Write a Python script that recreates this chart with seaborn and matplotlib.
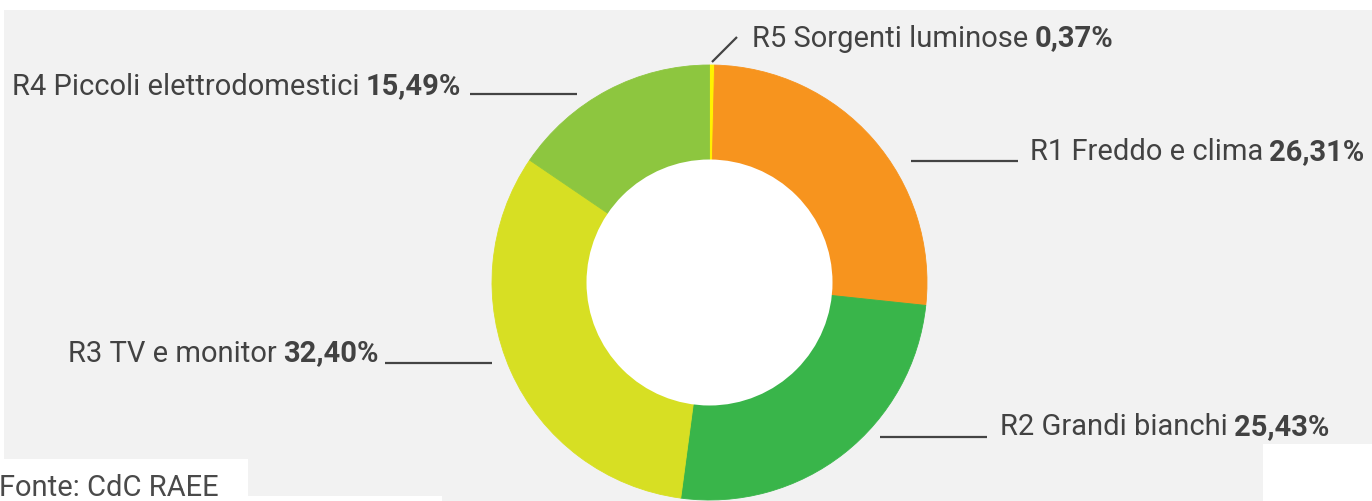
import matplotlib
matplotlib.use('Agg')
import matplotlib.pyplot as plt
import seaborn as sns
from matplotlib import font_manager
from matplotlib.patches import Rectangle, Circle

# ---- data ----
categories = ['R5 Sorgenti luminose', 'R1 Freddo e clima', 'R2 Grandi bianchi',
              'R3 TV e monitor', 'R4 Piccoli elettrodomestici']
values = [0.37, 26.31, 25.43, 32.40, 15.49]
value_labels = ['0,37%', '26,31%', '25,43%', '32,40%', '15,49%']
colors = ['#FFF200', '#F7941E', '#39B54A', '#D7DF23', '#8DC63F']
source = 'Fonte: CdC RAEE'

# ---- layout (pixel coords, y from top) ----
label_pos = {  # left x, baseline y
    'R5 Sorgenti luminose': (752, 46.5),
    'R1 Freddo e clima': (1030, 160),
    'R2 Grandi bianchi': (1000, 435),
    'R3 TV e monitor': (68, 361.5),
    'R4 Piccoli elettrodomestici': (12, 94.5),
}
leaders = {
    'R5 Sorgenti luminose': ((712, 62), (737, 37)),
    'R1 Freddo e clima': ((911, 161), (1018, 161)),
    'R2 Grandi bianchi': ((880, 436.5), (987, 436.5)),
    'R3 TV e monitor': ((385, 362.5), (492, 362.5)),
    'R4 Piccoli elettrodomestici': ((470, 94), (577, 94)),
}

sns.set_theme(style='white')
avail = {f.name for f in font_manager.fontManager.ttflist}
fam = next(f for f in ['Liberation Sans Narrow', 'Roboto', 'DejaVu Sans'] if f in avail)
plt.rcParams['font.family'] = [fam, 'DejaVu Sans']

W, H = 1372, 501
fig = plt.figure(figsize=(W / 100, H / 100), dpi=100)
fig.patch.set_facecolor('white')
ax = fig.add_axes([0, 0, 1, 1])
ax.set_axis_off()


def Y(y):
    return H - y


# background panels
ax.add_patch(Rectangle((4, 0), W - 4, H - 10, color='#f2f2f2', zorder=0, lw=0))
ax.add_patch(Rectangle((0, 0), 248, 501 - 459, color='white', zorder=0.5, lw=0))
ax.add_patch(Rectangle((248, 0), 442 - 248, 501 - 496, color='white', zorder=0.5, lw=0))
ax.add_patch(Rectangle((1263, 0), W - 1263, 501 - 444, color='white', zorder=0.5, lw=0))

# donut
cx, cy = 709.5, Y(282.5)
wedges, _ = ax.pie(values, colors=colors, startangle=90, counterclock=False,
                   center=(cx, cy), radius=217.5,
                   wedgeprops=dict(linewidth=0))
for w, c in zip(wedges, colors):
    w.set_zorder(2)
    w.set_edgecolor(c)
    w.set_linewidth(0.6)
ax.add_patch(Circle((cx, cy), 123, color='white', zorder=5, lw=0))

ax.set_xlim(0, W)
ax.set_ylim(0, H)
ax.set_aspect('equal')

tc = '#424242'
fs = 21
texts = []
for cat, vl in zip(categories, value_labels):
    x, yb = label_pos[cat]
    t = ax.text(x, Y(yb), cat, fontsize=fs, color=tc, va='baseline', ha='left', zorder=6)
    texts.append((t, vl, yb))
    (x0, y0), (x1, y1) = leaders[cat]
    ax.plot([x0, x1], [Y(y0), Y(y1)], color='#444444', lw=1.6, zorder=6,
            solid_capstyle='butt')

fig.canvas.draw()
r = fig.canvas.get_renderer()
for t, vl, yb in texts:
    bb = t.get_window_extent(r)
    ax.text(bb.x1 + 6, Y(yb), vl, fontsize=fs, color=tc, fontweight='bold',
            va='baseline', ha='left', zorder=6)

ax.text(-1, Y(496.5), source, fontsize=21, color='#4a4a4a', va='baseline', ha='left', zorder=6)

fig.savefig('out.png', dpi=100, facecolor=fig.get_facecolor())
